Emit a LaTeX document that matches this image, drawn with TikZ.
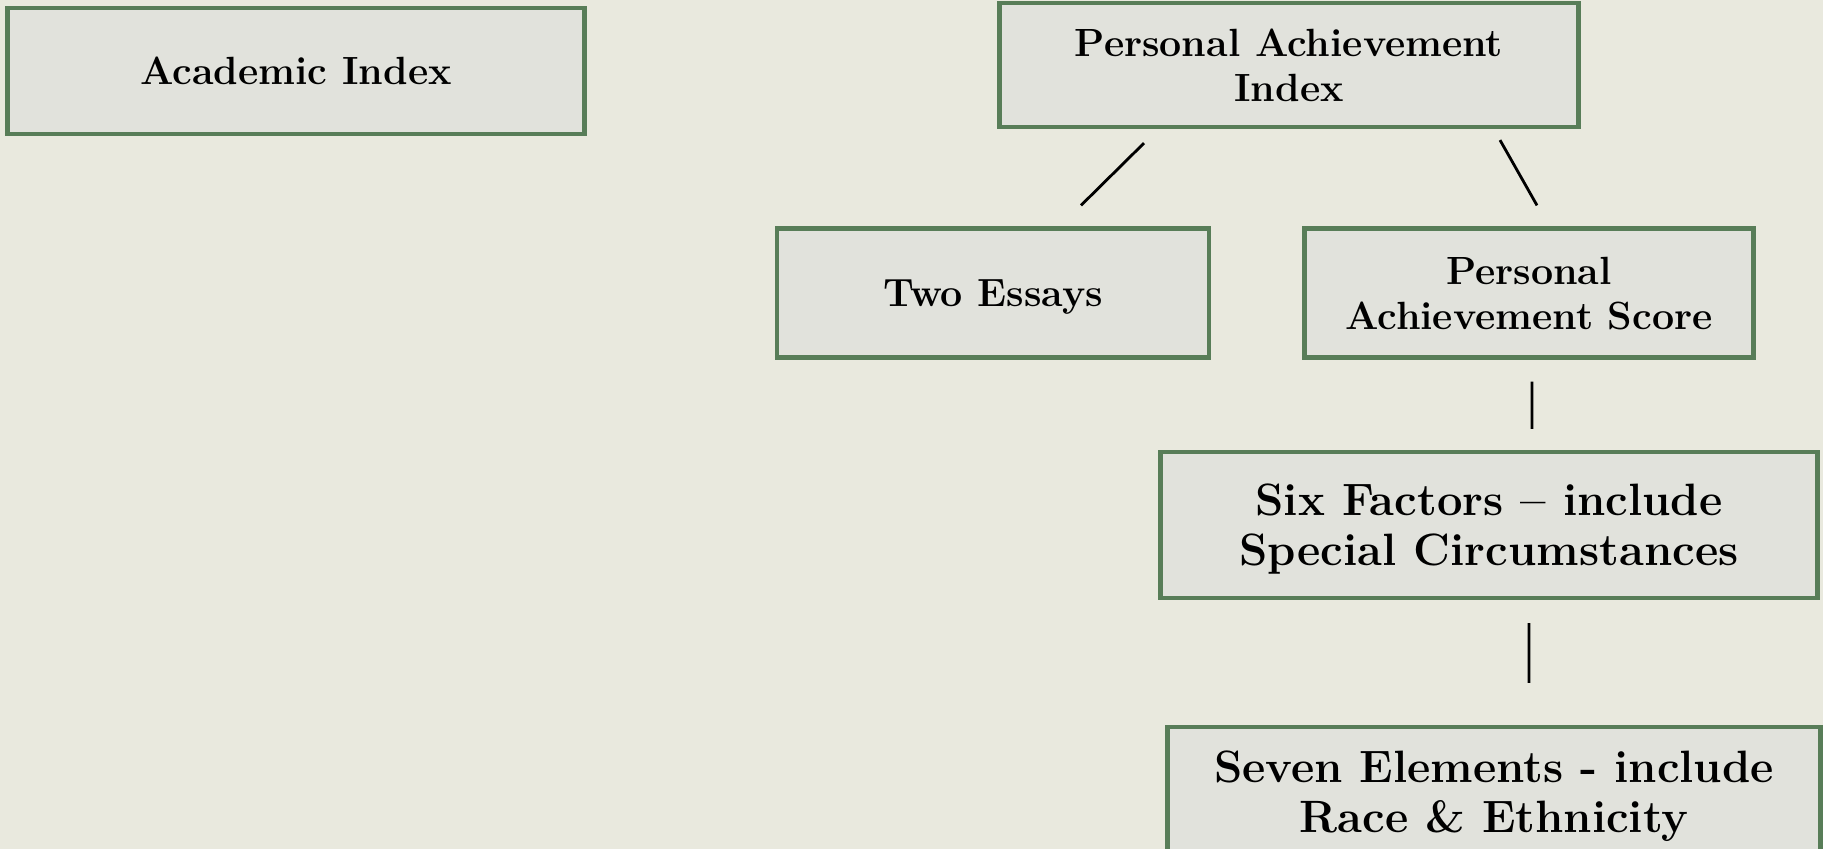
\documentclass[tikz,border=0pt]{standalone}
\usepackage{tikz}
\usetikzlibrary{positioning}

\definecolor{pagebg}{RGB}{233,233,222}
\definecolor{boxfill}{RGB}{225,226,220}
\definecolor{boxline}{RGB}{88,125,88}

\begin{document}
\begin{tikzpicture}[x=0.1mm, y=-0.1mm,
    box/.style={draw=boxline, line width=1.2pt, fill=boxfill, align=center,
        font=\fontsize{11.2}{12.8}\selectfont\bfseries, inner sep=0pt,
        text height=7.7pt, text depth=0pt},
    box2/.style={box, text height=20.5pt},
    bigbox/.style={box, font=\fontsize{12.9}{14.2}\selectfont\bfseries,
        text height=23.05pt},
    link/.style={line width=0.8pt, black}]
    % Page
    \fill[pagebg] (0,0) rectangle (1823,849);
    \useasboundingbox (0,0) rectangle (1823,849);
    \clip (0,0) rectangle (1823,849);

    % Academic side
    \node[box, minimum width=57.7mm, minimum height=12.6mm] (acad) at (296,71) {Academic Index};

    % Personal achievement side
    \node[box2, minimum width=57.9mm, minimum height=12.4mm] (pai) at (1289,65) {Personal Achievement\\Index};
    \node[box, minimum width=43.2mm, minimum height=12.9mm] (essays) at (993,293) {Two Essays};
    \node[box2, minimum width=44.9mm, minimum height=12.9mm] (pas) at (1529,293) {Personal\\Achievement Score};
    \node[bigbox, minimum width=65.7mm, minimum height=14.6mm] (six) at (1489,525) {Six Factors -- include\\Special Circumstances};
    \node[bigbox, minimum width=65.3mm, minimum height=13mm] (seven) at (1494,792) {Seven Elements - include\\Race \& Ethnicity};

    % Connectors
    \draw[link] ([xshift=-14.5mm, yshift=-1.4mm]pai.south) -- ([xshift=8.8mm, yshift=2.1mm]essays.north);
    \draw[link] ([xshift=21.1mm, yshift=-1.1mm]pai.south) -- ([xshift=0.8mm, yshift=2.1mm]pas.north);
    \draw[link] ([xshift=0.3mm, yshift=-2.2mm]pas.south) -- ([xshift=4.3mm, yshift=2.1mm]six.north);
    \draw[link] ([xshift=4mm, yshift=-2.3mm]six.south) -- ([xshift=3.5mm, yshift=4.2mm]seven.north);
\end{tikzpicture}
\end{document}
